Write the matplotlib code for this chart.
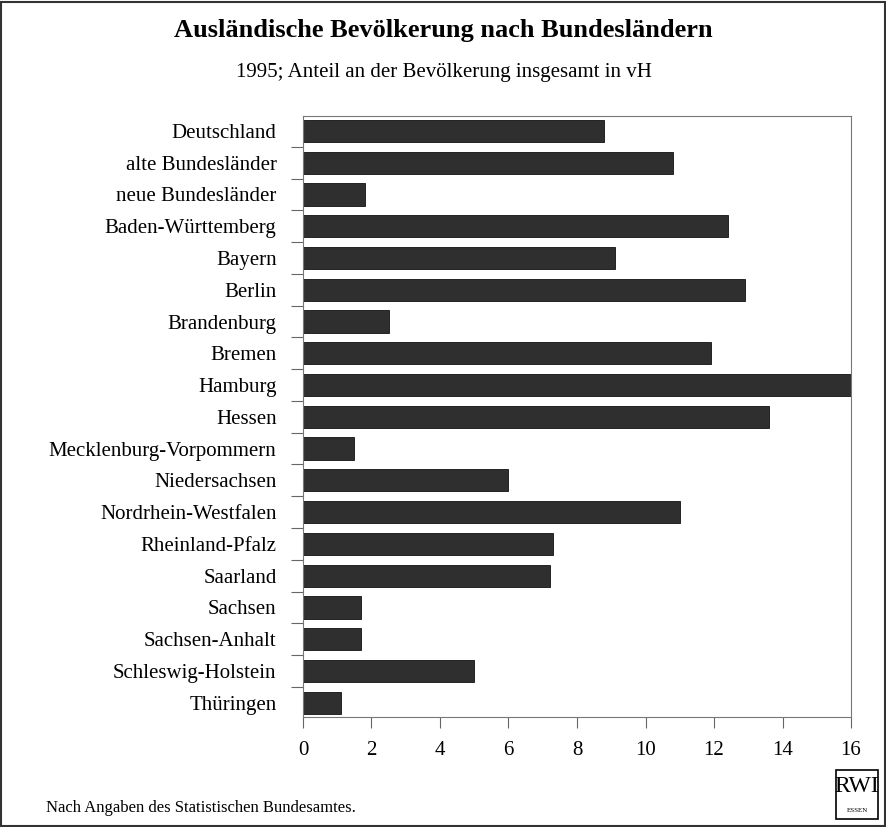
import numpy as np
import matplotlib.pyplot as plt
from matplotlib.patches import Rectangle

# Daten (1995, Anteil an der Bevölkerung in vH)
laender = ["Deutschland", "alte Bundesländer", "neue Bundesländer",
           "Baden-Württemberg", "Bayern", "Berlin", "Brandenburg", "Bremen",
           "Hamburg", "Hessen", "Mecklenburg-Vorpommern", "Niedersachsen",
           "Nordrhein-Westfalen", "Rheinland-Pfalz", "Saarland", "Sachsen",
           "Sachsen-Anhalt", "Schleswig-Holstein", "Thüringen"]
anteil = [8.8, 10.8, 1.8, 12.4, 9.1, 12.9, 2.5, 11.9, 16.0, 13.6,
          1.5, 6.0, 11.0, 7.3, 7.2, 1.7, 1.7, 5.0, 1.1]
xticks = [0, 2, 4, 6, 8, 10, 12, 14, 16]

plt.rcParams['font.family'] = ['Liberation Serif', 'DejaVu Serif']

fig = plt.figure(figsize=(8.87, 8.27), dpi=100)
ax = fig.add_axes([303/887, 1 - 717/827, 548/887, 601/827])

pos = np.arange(len(laender))
ax.barh(pos, anteil, height=0.7, color='#2f2f2f', edgecolor='#111111', linewidth=0.6)

ax.set_xlim(0, 16)
ax.set_ylim(len(laender) - 0.55, -0.47)
ax.set_xticks(xticks)
ax.set_xticklabels([str(t) for t in xticks], fontsize=15)
ax.set_yticks(pos)
ax.set_yticklabels(laender, fontsize=15)
ax.tick_params(axis='y', which='major', length=0, pad=19)
ax.set_yticks(pos[1:] - 0.5, minor=True)
ax.tick_params(axis='y', which='minor', length=8.5, width=0.8, color='#666666')
ax.tick_params(axis='x', length=8, width=0.8, color='#666666', pad=9)
for s in ax.spines.values():
    s.set_color('#777777')
    s.set_linewidth(0.8)

fig.text(0.5, 1 - 30/827, "Ausländische Bevölkerung nach Bundesländern",
         ha='center', va='center', fontsize=19, fontweight='bold')
fig.text(0.5, 1 - 73/827, "1995; Anteil an der Bevölkerung insgesamt in vH",
         ha='center', va='center', fontsize=15)
fig.text(46/887, 1 - 808/827, "Nach Angaben des Statistischen Bundesamtes.",
         ha='left', va='center', fontsize=12)

# RWI-Logo
fig.patches.append(Rectangle((836/887, 1 - 819/827), 42/887, 49/827,
                             transform=fig.transFigure, fill=False,
                             edgecolor='black', linewidth=1.2))
fig.text(857/887, 1 - 787/827, "RWI", ha='center', va='center', fontsize=17)
fig.text(857/887, 1 - 811/827, "ESSEN", ha='center', va='center', fontsize=5)

# Rahmen um die Grafik
fig.patches.append(Rectangle((1/887, 1/827), 884/887, 824/827,
                             transform=fig.transFigure, fill=False,
                             edgecolor='#333333', linewidth=1.5))

fig.savefig("out.png", dpi=100)
